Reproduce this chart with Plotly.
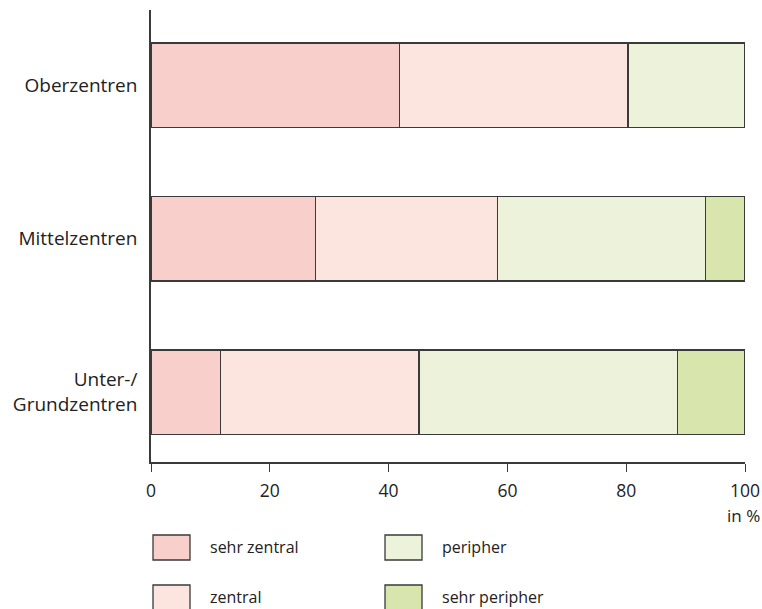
import plotly.graph_objects as go

categories = ["Oberzentren", "Mittelzentren", "Unter-/<br>Grundzentren"]
series_names = ["sehr zentral", "zentral", "peripher", "sehr peripher"]
sehr_zentral = [41.8, 27.7, 11.7]
zentral = [38.5, 30.6, 33.4]
peripher = [19.7, 35.0, 43.5]
sehr_peripher = [0.0, 6.7, 11.4]
tick_vals = [0, 20, 40, 60, 80, 100]
colors = ["#F8CFCB", "#FCE4DF", "#EDF3DA", "#D8E6AD"]

series_values = [sehr_zentral, zentral, peripher, sehr_peripher]
FONT = "Open Sans"
EDGE = "#3a3a3a"

fig = go.Figure()
for name, vals, col in zip(series_names, series_values, colors):
    fig.add_trace(go.Bar(
        y=categories, x=vals, name=name, orientation="h",
        marker=dict(color=col, line=dict(color=EDGE, width=1.3)),
        width=0.55, showlegend=False,
    ))

W, H = 762, 609
L, R, T, B = 151, 17, 10, 147
pw, ph = W - L - R, H - T - B

def px(x):
    return (x - L) / pw

def py(y):
    return (H - B - y) / ph

shapes = []
annotations = []
legend_pos = [(153, 535), (153, 585), (385, 535), (385, 585)]
for (bx, by), name, col in zip(legend_pos, series_names, colors):
    shapes.append(dict(type="rect", xref="paper", yref="paper",
                       x0=px(bx), x1=px(bx + 37), y0=py(by), y1=py(by + 25),
                       fillcolor=col, line=dict(color=EDGE, width=1.3)))
    annotations.append(dict(xref="paper", yref="paper", x=px(bx + 55), y=py(by + 12),
                            text=name, showarrow=False, xanchor="left", yanchor="middle",
                            font=dict(family=FONT, size=16, color="#222")))

annotations.append(dict(xref="paper", yref="paper", x=px(762), y=py(515),
                        text="in %", showarrow=False, xanchor="right", yanchor="middle",
                        font=dict(family=FONT, size=17, color="#222")))

fig.update_layout(
    barmode="stack",
    width=W, height=H,
    margin=dict(l=L, r=R, t=T, b=B, pad=0, autoexpand=False),
    plot_bgcolor="white", paper_bgcolor="white",
    font=dict(family=FONT, size=16, color="#222"),
    shapes=shapes, annotations=annotations,
    xaxis=dict(range=[0, 100], tickvals=tick_vals, ticks="outside", ticklen=8,
               tickwidth=1.3, tickcolor=EDGE, showline=True, linecolor=EDGE, linewidth=1.5,
               showgrid=False, zeroline=False, ticklabelstandoff=4,
               tickfont=dict(size=17.5, family=FONT)),
    yaxis=dict(categoryorder="array", categoryarray=categories,
               range=[2.455, -0.49], showline=True, linecolor=EDGE, linewidth=1.5,
               showgrid=False, zeroline=False, ticks="", ticklabelstandoff=8,
               tickfont=dict(size=19, family=FONT)),
)

fig.write_html("out.html", config={"displayModeBar": False},
               post_script="document.body.style.margin='0';document.body.style.overflow='hidden';")
